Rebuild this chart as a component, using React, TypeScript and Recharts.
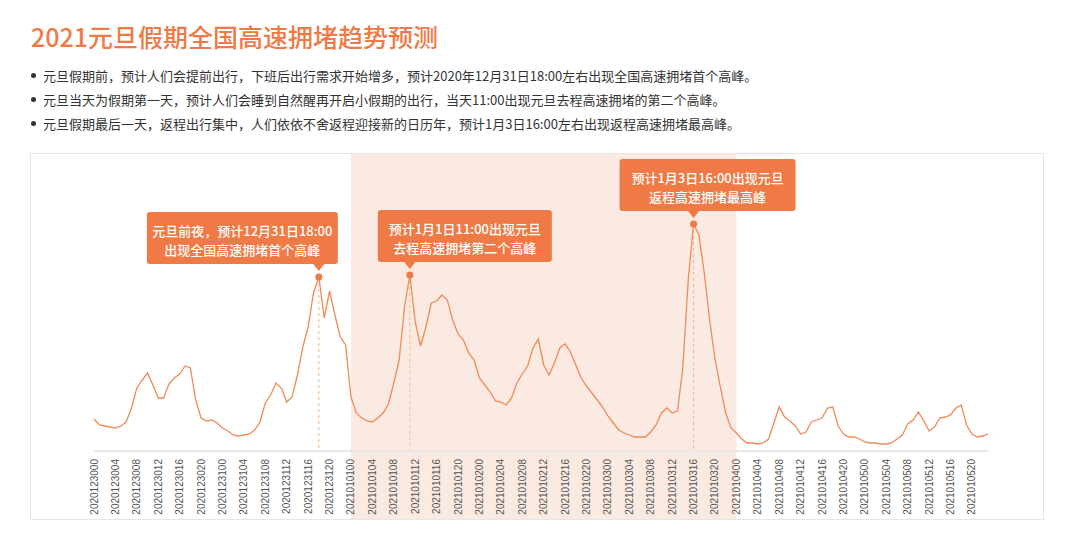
import React from 'react';
import {
  LineChart,
  Line,
  XAxis,
  YAxis,
  ReferenceArea,
  ReferenceLine,
  ReferenceDot,
} from 'recharts';

// hourly congestion index, one array per day
const days = ['20201230', '20201231', '20210101', '20210102', '20210103', '20210104', '20210105'];

const dec30 = [32, 26, 25, 24, 23, 25, 29, 43, 63, 71, 78, 66, 53, 53, 67, 73, 77, 85, 83, 51, 33, 30, 31, 28];
const dec31 = [23, 20, 16, 15, 16, 17, 21, 29, 48, 56, 68, 63, 49, 54, 76, 104, 124, 158, 174, 133, 160, 136, 114, 106];
const jan01 = [54, 38, 33, 30, 29, 33, 38, 47, 68, 91, 144, 176, 129, 105, 124, 148, 150, 156, 151, 131, 117, 111, 98, 91];
const jan02 = [73, 66, 59, 50, 49, 46, 53, 68, 77, 85, 103, 112, 86, 76, 88, 103, 107, 99, 86, 73, 65, 58, 51, 44];
const jan03 = [35, 28, 21, 18, 16, 14, 14, 14, 19, 26, 38, 43, 38, 40, 84, 171, 227, 216, 178, 131, 92, 64, 38, 23];
const jan04 = [18, 12, 8, 8, 7, 8, 12, 28, 44, 34, 30, 25, 17, 19, 29, 31, 33, 43, 44, 25, 17, 14, 14, 12];
const jan05 = [9, 8, 8, 7, 7, 8, 12, 16, 27, 31, 39, 30, 20, 24, 33, 34, 36, 43, 46, 26, 17, 14, 15, 17];

const hourly = [dec30, dec31, jan01, jan02, jan03, jan04, jan05];

const holidayStart = '2021010100';
const holidayEnd = '2021010400';

const peakTimes = ['2020123118', '2021010111', '2021010316'];
const peakTexts = [
  ['元旦前夜，预计12月31日18:00', '出现全国高速拥堵首个高峰'],
  ['预计1月1日11:00出现元旦', '去程高速拥堵第二个高峰'],
  ['预计1月3日16:00出现元旦', '返程高速拥堵最高峰'],
];
// callout box width / how far left of the peak the box starts
const boxLayout = [
  { w: 191, left: 172 },
  { w: 174, left: 32 },
  { w: 176, left: 74 },
];

const bullets = [
  '元旦假期前，预计人们会提前出行，下班后出行需求开始增多，预计2020年12月31日18:00左右出现全国高速拥堵首个高峰。',
  '元旦当天为假期第一天，预计人们会睡到自然醒再开启小假期的出行，当天11:00出现元旦去程高速拥堵的第二个高峰。',
  '元旦假期最后一天，返程出行集中，人们依依不舍返程迎接新的日历年，预计1月3日16:00左右出现返程高速拥堵最高峰。',
];

const data = days.flatMap((d, i) =>
  hourly[i].map((v, h) => ({ time: d + String(h).padStart(2, '0'), value: v }))
);

const ORANGE = '#EF7A45';
const FONT = '"Noto Sans CJK SC", "Noto Sans", sans-serif';
const CHART_W = 1014;
const CHART_H = 367;

const RotatedTick = (props: any) => {
  const { x, y, payload } = props;
  return (
    <text
      x={x}
      y={y}
      transform={`rotate(-90, ${x}, ${y})`}
      textAnchor="end"
      dy={3.5}
      fontSize={10}
      fontFamily='"Liberation Sans", Arial, sans-serif'
      fill="#555"
    >
      {payload.value}
    </text>
  );
};

const Shade = (props: any) => (
  <rect x={props.x} y={1} width={props.width} height={CHART_H - 2} fill="#FBEAE1" />
);

const makeCallout = (idx: number) => (props: any) => {
  const { cx, cy } = props;
  const { w, left } = boxLayout[idx];
  const boxBottom = cy - 13;
  const boxTop = boxBottom - 52;
  const bx = cx - left;
  return (
    <g>
      <rect x={bx} y={boxTop} width={w} height={52} rx={3} fill={ORANGE} />
      <path d={`M${cx - 6},${boxBottom - 0.5} L${cx + 6},${boxBottom - 0.5} L${cx},${cy - 6} Z`} fill={ORANGE} />
      <circle cx={cx} cy={cy} r={3.5} fill={ORANGE} />
      {peakTexts[idx].map((t, i) => (
        <text
          key={i}
          x={bx + w / 2}
          y={boxTop + 18 + i * 19}
          textAnchor="middle"
          dominantBaseline="central"
          fontSize={13}
          fontWeight={500}
          fontFamily={FONT}
          fill="#fff"
        >
          {t}
        </text>
      ))}
    </g>
  );
};

const App: React.FC = () => {
  const peaks = peakTimes.map((t) => data.find((d) => d.time === t)!);

  return (
    <div style={{ position: 'absolute', left: 0, top: 0, width: 1080, height: 535, background: '#fff', fontFamily: FONT }}>
      <div style={{ position: 'absolute', left: 31, top: 18, fontSize: 25, fontWeight: 500, color: ORANGE, lineHeight: '36px', whiteSpace: 'nowrap' }}>
        2021元旦假期全国高速拥堵趋势预测
      </div>
      {bullets.map((b, i) => (
        <div
          key={i}
          style={{ position: 'absolute', left: 31, top: 66 + i * 24, fontSize: 13, color: '#333', lineHeight: '20px', whiteSpace: 'nowrap' }}
        >
          <span style={{ display: 'inline-block', width: 5, height: 5, borderRadius: 3, background: '#333', marginRight: 7, verticalAlign: 'middle', position: 'relative', top: -2 }} />
          {b}
        </div>
      ))}

      <div style={{ position: 'absolute', left: 30, top: 153 }}>
        <LineChart
          width={CHART_W}
          height={CHART_H}
          data={data}
          margin={{ top: 18, right: 56, bottom: 9, left: 64 }}
        >
          <ReferenceArea x1={holidayStart} x2={holidayEnd} shape={Shade} ifOverflow="visible" />
          <XAxis
            dataKey="time"
            interval={3}
            tickLine={false}
            axisLine={{ stroke: '#E8E8E8', strokeWidth: 2 }}
            tick={<RotatedTick />}
            height={60}
          />
          <YAxis hide domain={[0, 280]} />
          {peaks.map((p) => (
            <ReferenceLine
              key={'l' + p.time}
              segment={[{ x: p.time, y: p.value }, { x: p.time, y: 0 }]}
              stroke="#F6B382"
              strokeDasharray="3 3"
              strokeWidth={1}
            />
          ))}
          <Line
            type="linear"
            dataKey="value"
            stroke="#F08A57"
            strokeWidth={1.3}
            dot={false}
            activeDot={false}
            isAnimationActive={false}
          />
          {peaks.map((p, i) => (
            <ReferenceDot
              key={'d' + p.time}
              x={p.time}
              y={p.value}
              ifOverflow="visible"
              shape={makeCallout(i)}
            />
          ))}
        </LineChart>
      </div>
      <div
        style={{ position: 'absolute', left: 30, top: 153, width: CHART_W, height: CHART_H, boxSizing: 'border-box', border: '1px solid #E6E6E6', pointerEvents: 'none' }}
      />
    </div>
  );
};

export default App;
